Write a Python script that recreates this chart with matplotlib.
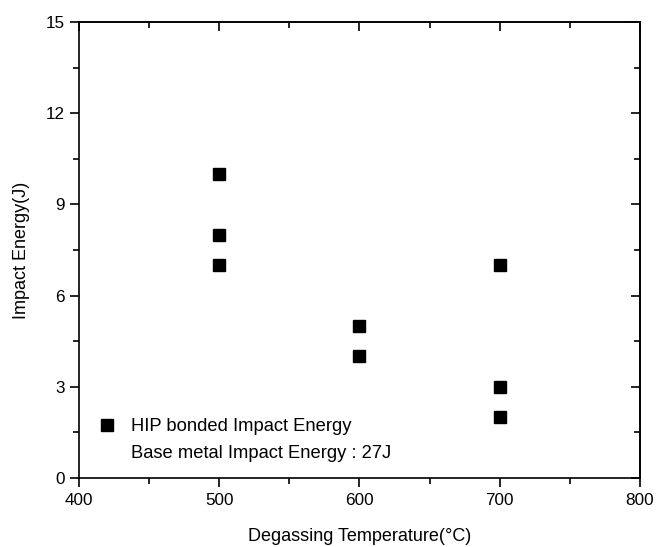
import matplotlib
matplotlib.use("Agg")
import matplotlib.pyplot as plt
from matplotlib.lines import Line2D
from matplotlib.ticker import MultipleLocator

plt.rcParams["font.family"] = ["Liberation Sans", "DejaVu Sans"]

# degassing temperature (C) and impact energy (J)
temperature = [500, 500, 500, 600, 600, 700, 700, 700]
impact_energy = [10, 8, 7, 5, 4, 7, 3, 2]

fig = plt.figure(figsize=(6.56, 5.47), dpi=100)
ax = fig.add_axes([0.1204, 0.126, 0.855, 0.8336])

ax.plot(temperature, impact_energy, linestyle="none", marker="s",
        markersize=9.2, color="black")

ax.set_xlim(400, 800)
ax.set_ylim(0, 15)
ax.xaxis.set_major_locator(MultipleLocator(100))
ax.xaxis.set_minor_locator(MultipleLocator(50))
ax.yaxis.set_major_locator(MultipleLocator(3))
ax.yaxis.set_minor_locator(MultipleLocator(1.5))

ax.tick_params(which="both", direction="out", labelsize=12.3, width=1.2)
ax.tick_params(which="major", length=6.5, pad=4)
ax.tick_params(which="minor", length=4)

# mirrored ticks on top and right, pointing inward
top = ax.secondary_xaxis("top")
top.set_xticks([400, 500, 600, 700, 800])
top.xaxis.set_minor_locator(MultipleLocator(50))
top.tick_params(which="both", direction="in", labeltop=False, width=1.2)
top.tick_params(which="major", length=6.5)
top.tick_params(which="minor", length=4)
right = ax.secondary_yaxis("right")
right.set_yticks([0, 3, 6, 9, 12, 15])
right.yaxis.set_minor_locator(MultipleLocator(1.5))
right.tick_params(which="both", direction="in", labelright=False, width=1.2)
right.tick_params(which="major", length=6.5)
right.tick_params(which="minor", length=4)

for s in ax.spines.values():
    s.set_linewidth(1.2)
top.spines["top"].set_linewidth(1.2)
right.spines["right"].set_linewidth(1.2)

ax.set_xlabel("Degassing Temperature(\u00b0C)", fontsize=13, labelpad=15)
ax.set_ylabel("Impact Energy(J)", fontsize=13, labelpad=11)

handles = [
    Line2D([], [], linestyle="none", marker="s", markersize=9.2, color="black"),
    Line2D([], [], linestyle="none"),
]
labels = ["HIP bonded Impact Energy", "Base metal Impact Energy : 27J"]
ax.legend(handles, labels, loc="lower left", bbox_to_anchor=(-0.012, -0.002),
          frameon=False, fontsize=13.2, handletextpad=0.3, labelspacing=0.55)

fig.savefig("out.png", dpi=100)
